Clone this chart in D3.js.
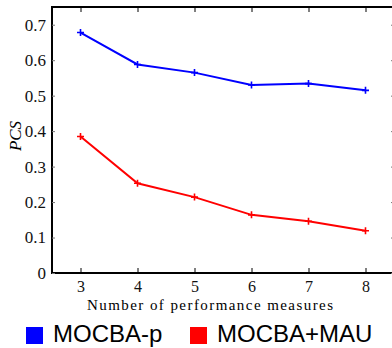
<!DOCTYPE html>
<html>
<head>
<meta charset="utf-8">
<script src="https://cdn.jsdelivr.net/npm/d3@7"></script>
<style>
  body { margin: 0; background: #fff; }
  svg { display: block; }
  .serif, .serif text { font-family: 'Liberation Serif', 'Times New Roman', serif; }
  .sans { font-family: 'Liberation Sans', Arial, sans-serif; }
</style>
</head>
<body>
<div id="chart"></div>
<script>
const measures = [3, 4, 5, 6, 7, 8];
const mocbaP = [0.678, 0.588, 0.565, 0.530, 0.534, 0.515];
const mocbaMau = [0.385, 0.253, 0.214, 0.164, 0.146, 0.119];
const yTicks = [0, 0.1, 0.2, 0.3, 0.4, 0.5, 0.6, 0.7];
const seriesNames = ['MOCBA-p', 'MOCBA+MAU'];
const seriesColors = ['#0000ff', '#ff0000'];

const width = 392;
const height = 348;
const plotLeft = 52, plotRight = 394, plotTop = 7, plotBottom = 273;

const svg = d3.select('#chart')
  .append('svg')
  .attr('width', width)
  .attr('height', height);

const x = d3.scaleLinear().domain([2.5, 8.5]).range([plotLeft, plotRight]);
const y = d3.scaleLinear().domain([0, 0.75]).range([plotBottom, plotTop]);

// box
svg.append('rect')
  .attr('x', plotLeft).attr('y', plotTop)
  .attr('width', plotRight - plotLeft).attr('height', plotBottom - plotTop)
  .attr('fill', 'none').attr('stroke', '#000').attr('stroke-width', 2);

// bottom axis, ticks inward
const xAxis = svg.append('g')
  .attr('class', 'serif')
  .attr('transform', `translate(0,${plotBottom})`)
  .call(d3.axisBottom(x).tickValues(measures).tickSize(-5).tickPadding(8).tickFormat(d3.format('d')))
  .attr('font-family', 'Liberation Serif')
  .attr('font-size', 16);
xAxis.select('.domain').remove();
xAxis.selectAll('text').attr('fill', '#111');

// top ticks
svg.append('g')
  .attr('transform', `translate(0,${plotTop})`)
  .call(d3.axisTop(x).tickValues(measures).tickSize(-5).tickFormat(''))
  .select('.domain').remove();

// left axis
const yAxis = svg.append('g')
  .attr('class', 'serif')
  .attr('transform', `translate(${plotLeft},0)`)
  .call(d3.axisLeft(y).tickValues(yTicks).tickSize(-3).tickPadding(6).tickFormat(d => d === 0 ? '0' : d3.format('.1f')(d)))
  .attr('font-family', 'Liberation Serif')
  .attr('font-size', 17);
yAxis.select('.domain').remove();
yAxis.selectAll('line').attr('stroke', '#777');
yAxis.selectAll('text').attr('fill', '#111');

// right ticks
const rAxis = svg.append('g')
  .attr('transform', `translate(${plotRight},0)`)
  .call(d3.axisRight(y).tickValues(yTicks).tickSize(-3).tickFormat(''));
rAxis.select('.domain').remove();
rAxis.selectAll('line').attr('stroke', '#777');

// axis titles
svg.append('text')
  .attr('class', 'serif')
  .attr('x', 210).attr('y', 310)
  .attr('text-anchor', 'middle')
  .attr('font-size', 15)
  .attr('textLength', 246)
  .text('Number of performance measures');

svg.append('text')
  .attr('class', 'serif')
  .attr('transform', 'translate(21,136) rotate(-90)')
  .attr('text-anchor', 'middle')
  .attr('font-style', 'italic').attr('font-size', 17)
  .text('PCS');

// series
const line = d3.line()
  .x((d, i) => x(measures[i]))
  .y(d => y(d));

[mocbaP, mocbaMau].forEach((vals, k) => {
  svg.append('path')
    .datum(vals)
    .attr('d', line)
    .attr('fill', 'none')
    .attr('stroke', seriesColors[k])
    .attr('stroke-width', 2);

  svg.selectAll(null)
    .data(vals)
    .enter().append('path')
    .attr('d', 'M-3.5,0H3.5M0,-3.5V3.5')
    .attr('transform', (d, i) => `translate(${x(measures[i])},${y(d)})`)
    .attr('stroke', seriesColors[k])
    .attr('stroke-width', 1.6);
});

// legend
const legendX = [26, 190];
seriesNames.forEach((name, k) => {
  svg.append('rect')
    .attr('x', legendX[k]).attr('y', 327)
    .attr('width', 17).attr('height', 17)
    .attr('fill', seriesColors[k]);
  svg.append('text')
    .attr('class', 'sans')
    .attr('x', legendX[k] + 27).attr('y', 342)
    .attr('font-size', 24)
    .text(name);
});
</script>
</body>
</html>
